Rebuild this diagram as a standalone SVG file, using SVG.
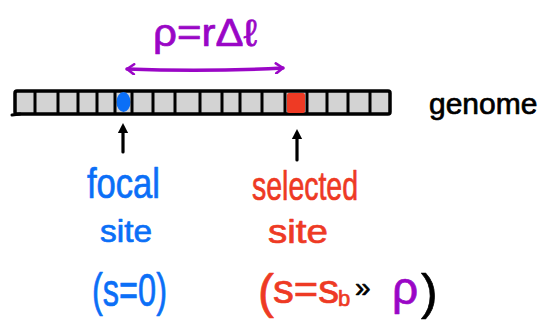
<svg xmlns="http://www.w3.org/2000/svg" width="543" height="323" viewBox="0 0 543 323">
<defs>
<style>
.t{font-family:"Liberation Sans","DejaVu Sans",sans-serif;stroke-linejoin:round;stroke-width:0.7}
.blue{fill:#0b6ff7;stroke:#0b6ff7}
.red{fill:#ee3a24;stroke:#ee3a24}
.pur{fill:#9a06c6;stroke:#9a06c6}
.blk{fill:#000;stroke:#000}
.div{stroke:#000;stroke-width:3;stroke-linecap:round}
</style>
<marker id="ah" viewBox="0 0 10 10" refX="5" refY="5" markerWidth="4" markerHeight="4" orient="auto-start-reverse">
<path d="M1,1 L9,5 L1,9 Z" fill="#000"/>
</marker>
<marker id="pa" viewBox="0 0 12 12" refX="10" refY="6" markerWidth="12" markerHeight="12" markerUnits="userSpaceOnUse" orient="auto-start-reverse">
<path d="M3,1 L10,6 L3,11" fill="none" stroke="#9a06c6" stroke-width="2.6" stroke-linecap="round" stroke-linejoin="round"/>
</marker>
</defs>
<g id="genome-bar">
<rect x="15" y="91" width="375" height="23" rx="2" fill="#d3d3d3" stroke="#000" stroke-width="3.5"/>
<ellipse cx="123.5" cy="102" rx="7" ry="10" fill="#0b6ff7"/>
<rect x="287" y="93" width="18" height="20" rx="2" fill="#ee3a24"/>
<g class="div">
<line x1="35" y1="92" x2="35" y2="113"/>
<line x1="58" y1="92" x2="58" y2="113"/>
<line x1="78" y1="92" x2="78" y2="113"/>
<line x1="97" y1="92" x2="97" y2="113"/>
<line x1="115" y1="92" x2="115" y2="113"/>
<line x1="132" y1="92" x2="132" y2="113"/>
<line x1="153" y1="92" x2="153" y2="113"/>
<line x1="175" y1="92" x2="175" y2="113"/>
<line x1="200" y1="92" x2="200" y2="113"/>
<line x1="222" y1="92" x2="222" y2="113"/>
<line x1="240" y1="92" x2="240" y2="113"/>
<line x1="262" y1="92" x2="262" y2="113"/>
<line x1="285" y1="92" x2="285" y2="113"/>
<line x1="307" y1="92" x2="307" y2="113"/>
<line x1="327" y1="92" x2="327" y2="113"/>
<line x1="348" y1="92" x2="348" y2="113"/>
<line x1="370" y1="92" x2="370" y2="113"/>
</g>
<line x1="12" y1="115" x2="20" y2="114" stroke="#000" stroke-width="3" stroke-linecap="round"/>
</g>
<g id="genome-label">
<text class="t blk" x="429" y="114" font-size="30">genome</text>
</g>
<g id="distance-label">
<text class="t pur" x="153" y="46" font-size="38" textLength="104" lengthAdjust="spacingAndGlyphs">ρ=rΔℓ</text>
</g>
<g id="focal-site">
<text class="t blue" x="87" y="198" font-size="42" textLength="73" lengthAdjust="spacingAndGlyphs">focal</text>
<text class="t blue" x="100" y="242" font-size="32" textLength="52" lengthAdjust="spacingAndGlyphs">site</text>
<text class="t blue" x="92" y="306" font-size="46" textLength="75" lengthAdjust="spacingAndGlyphs">(s=0)</text>
</g>
<g id="selected-site">
<text class="t red" x="252" y="200" font-size="40" textLength="106" lengthAdjust="spacingAndGlyphs">selected</text>
<text class="t red" x="268" y="243" font-size="34" textLength="60" lengthAdjust="spacingAndGlyphs">site</text>
<text class="t red" x="258" y="308" font-size="48">(</text>
<text class="t red" x="273" y="303" font-size="40" textLength="66" lengthAdjust="spacingAndGlyphs">s=s</text>
<text class="t red" x="338" y="306" font-size="22">b</text>
<text class="t blk" x="355" y="297" font-size="28">»</text>
<text class="t pur" x="392" y="304" font-size="46">ρ</text>
<text class="t blk" x="421" y="309" font-size="50">)</text>
</g>
<g id="connectors">
<line x1="123" y1="152" x2="123" y2="128" stroke="#000" stroke-width="3.2" stroke-linecap="round" marker-end="url(#ah)"/>
<line x1="297" y1="160" x2="297" y2="134" stroke="#000" stroke-width="3.2" stroke-linecap="round" marker-end="url(#ah)"/>
<path d="M127,69 Q205,72 283,68" fill="none" stroke="#9a06c6" stroke-width="3.5" stroke-linecap="round" marker-start="url(#pa)" marker-end="url(#pa)"/>
</g>
</svg>
